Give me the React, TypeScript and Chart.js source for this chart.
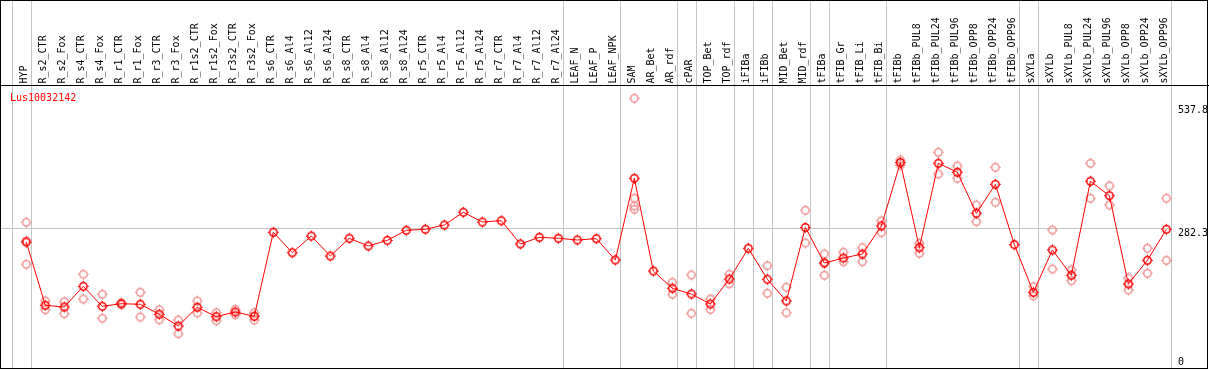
import React, { useEffect, useRef } from "react";
import { Chart, registerables } from "chart.js";

Chart.register(...registerables);

const geneTitle = "Lus10032142";

const categories = [
  "HYP", "R_s2_CTR", "R_s2_Fox", "R_s4_CTR", "R_s4_Fox", "R_r1_CTR", "R_r1_Fox", "R_r3_CTR", "R_r3_Fox",
  "R_r1s2_CTR", "R_r1s2_Fox", "R_r3s2_CTR", "R_r3s2_Fox", "R_s6_CTR", "R_s6_Al4", "R_s6_Al12", "R_s6_Al24",
  "R_s8_CTR", "R_s8_Al4", "R_s8_Al12", "R_s8_Al24", "R_r5_CTR", "R_r5_Al4", "R_r5_Al12", "R_r5_Al24",
  "R_r7_CTR", "R_r7_Al4", "R_r7_Al12", "R_r7_Al24", "LEAF_N", "LEAF_P", "LEAF_NPK", "SAM", "AR_Bet", "AR_rdf",
  "cPAR", "TOP_Bet", "TOP_rdf", "iFIBa", "iFIBb", "MID_Bet", "MID_rdf", "tFIBa", "tFIB_Gr", "tFIB_Li", "tFIB_Bi",
  "tFIBb", "tFIBb_PUL8", "tFIBb_PUL24", "tFIBb_PUL96", "tFIBb_OPP8", "tFIBb_OPP24", "tFIBb_OPP96",
  "sXYLa", "sXYLb", "sXYLb_PUL8", "sXYLb_PUL24", "sXYLb_PUL96", "sXYLb_OPP8", "sXYLb_OPP24", "sXYLb_OPP96",
];

const meanValues = [
  254.0, 123.3, 119.8, 162.5, 121.2, 126.6, 125.4, 104.7, 80.5,
  119.2, 99.8, 109.5, 100.6, 274.1, 231.9, 266.4, 225.1,
  261.7, 245.8, 257.5, 278.2, 280.3, 289.1, 315.4, 295.3,
  298.0, 249.9, 263.7, 261.7, 258.2, 260.9, 216.9, 385.6, 194.1, 158.4,
  146.6, 126.0, 177.6, 241.0, 177.0, 132.2, 284.0, 210.7, 221.0, 229.2, 287.1,
  418.2, 242.3, 416.6, 398.0, 313.3, 373.2, 248.5,
  150.1, 237.5, 185.3, 379.4, 349.7, 167.3, 216.2, 280.3,
];

const repA = [
  294.7, 132.2, 130.7, 187.3, 146.0, 128.5, 150.1, 114.2, 92.9,
  132.2, 108.0, 115.0, 108.0, null, null, null, null,
  null, null, null, null, null, null, null, null,
  null, null, null, null, null, null, null, 550.8, null, 170.8,
  185.9, 136.3, 187.3, null, 205.1, 160.5, 319.5, 229.2, 232.8, 242.3, 297.4,
  423.4, 251.3, 439.3, 411.0, 330.4, 408.3, null,
  161.7, 278.8, 196.2, 416.6, 369.7, 179.7, 241.0, 344.3,
];

const repB = [
  208.0, 114.2, 105.9, 136.3, 96.5, 124.7, 99.1, 93.6, 64.6,
  107.4, 91.5, 103.9, 92.9, null, null, null, null,
  null, null, null, null, null, null, null, null,
  null, null, null, null, null, null, null, 344.3, null, 146.0,
  106.8, 115.0, 167.9, null, 148.1, 108.0, 252.0, 185.3, 213.3, 213.3, 273.2,
  413.0, 230.7, 394.5, 385.6, 296.0, 336.0, null,
  142.5, 198.3, 174.1, 344.3, 330.4, 154.9, 189.4, 216.2,
];

// extra replicates: [category index, value]
const extraReps: [number, number][] = [
  [0, 256.1], [32, 328.4], [32, 321.6], [42, 210.7],
];

// groups end after these category indices
const groupBreaks = [-1, 0, 28, 31, 34, 35, 37, 38, 39, 41, 42, 45, 52, 53, 60];

const axisTicks = [537.8, 282.3, 0];
const gridValue = 282.3;

function makeMarker(color: string) {
  const c = document.createElement("canvas");
  c.width = 13;
  c.height = 13;
  const g = c.getContext("2d")!;
  g.strokeStyle = color;
  g.lineWidth = 1.5;
  g.beginPath();
  g.arc(6.5, 6.5, 3.7, 0, Math.PI * 2);
  g.stroke();
  g.lineWidth = 1;
  g.beginPath();
  g.moveTo(6.5, 1); g.lineTo(6.5, 2.6);
  g.moveTo(6.5, 10.4); g.lineTo(6.5, 12);
  g.moveTo(1, 6.5); g.lineTo(2.6, 6.5);
  g.moveTo(10.4, 6.5); g.lineTo(12, 6.5);
  g.stroke();
  return c;
}

const FONT = "10px 'DejaVu Sans Mono', monospace";

const decorPlugin = {
  id: "decor",
  beforeDatasetsDraw(chart: any) {
    const ctx = chart.ctx;
    const xs = chart.scales.x;
    const ys = chart.scales.y;
    const area = chart.chartArea;
    ctx.save();
    ctx.strokeStyle = "#c4c4c4";
    ctx.lineWidth = 1;
    const gy = Math.round(ys.getPixelForValue(gridValue)) + 0.5;
    ctx.beginPath();
    ctx.moveTo(0, gy);
    ctx.lineTo(area.right, gy);
    ctx.stroke();
    ctx.beginPath();
    groupBreaks.forEach((k) => {
      const x = Math.round(xs.getPixelForValue(k + 0.23)) + 0.5;
      ctx.moveTo(x, 0);
      ctx.lineTo(x, area.bottom);
    });
    ctx.stroke();
    ctx.restore();
  },
  afterDatasetsDraw(chart: any) {
    const ctx = chart.ctx;
    const xs = chart.scales.x;
    const ys = chart.scales.y;
    const W = chart.width;
    ctx.save();
    ctx.strokeStyle = "#000";
    ctx.lineWidth = 1;
    ctx.beginPath();
    ctx.moveTo(0, 85.5);
    ctx.lineTo(W, 85.5);
    ctx.stroke();
    ctx.strokeRect(0.5, 0.5, W - 2, 368);

    ctx.font = FONT;
    ctx.fillStyle = "#000";
    ctx.textAlign = "left";
    ctx.textBaseline = "alphabetic";
    categories.forEach((lab, i) => {
      const x = xs.getPixelForValue(i);
      ctx.save();
      ctx.translate(x + 0.5, 83.5);
      ctx.rotate(-Math.PI / 2);
      ctx.fillText(lab, 0, 0);
      ctx.restore();
    });

    ctx.fillStyle = "#ff0000";
    ctx.fillText(geneTitle, 10, 101);

    ctx.fillStyle = "#000";
    axisTicks.forEach((v) => {
      const y = ys.getPixelForValue(v);
      ctx.fillText(v === 0 ? "0" : v.toFixed(1), 1178, v === 0 ? y : y + 8);
    });
    ctx.restore();
  },
};

export default function App() {
  const ref = useRef<HTMLCanvasElement | null>(null);

  useEffect(() => {
    if (!ref.current) return;
    const meanMarker = makeMarker("#ff0000");
    const repMarker = makeMarker("#f09494");

    const repPoints: { x: number; y: number }[] = [];
    [repA, repB].forEach((arr) =>
      arr.forEach((v, i) => {
        if (v !== null) repPoints.push({ x: i, y: v as number });
      })
    );
    extraReps.forEach(([i, v]) => repPoints.push({ x: i, y: v }));

    const chart = new Chart(ref.current, {
      type: "line",
      data: {
        datasets: [
          {
            label: "mean",
            data: meanValues.map((v, i) => ({ x: i, y: v })),
            borderColor: "#ff0000",
            borderWidth: 1,
            pointStyle: meanMarker as any,
            pointRadius: 4,
            tension: 0,
            fill: false,
            clip: false as any,
            order: 0,
          },
          {
            label: "replicates",
            data: repPoints,
            showLine: false,
            borderColor: "#f09494",
            pointStyle: repMarker as any,
            pointRadius: 4,
            clip: false as any,
            order: 1,
          },
        ],
      },
      options: {
        animation: false,
        responsive: false,
        devicePixelRatio: 1,
        layout: { autoPadding: false, padding: { left: 1, right: 39, top: 86, bottom: 2 } },
        plugins: { legend: { display: false }, tooltip: { enabled: false } },
        events: [],
        scales: {
          x: { type: "linear", display: false, min: -1.33, max: 60.19 },
          y: { type: "linear", display: false, min: -6.2, max: 576.2 },
        },
      },
      plugins: [decorPlugin],
    });
    return () => chart.destroy();
  }, []);

  return (
    <div style={{ position: "fixed", left: 0, top: 0, width: 1209, height: 370, background: "#fff" }}>
      <canvas ref={ref} width={1209} height={370} style={{ display: "block" }} />
    </div>
  );
}
